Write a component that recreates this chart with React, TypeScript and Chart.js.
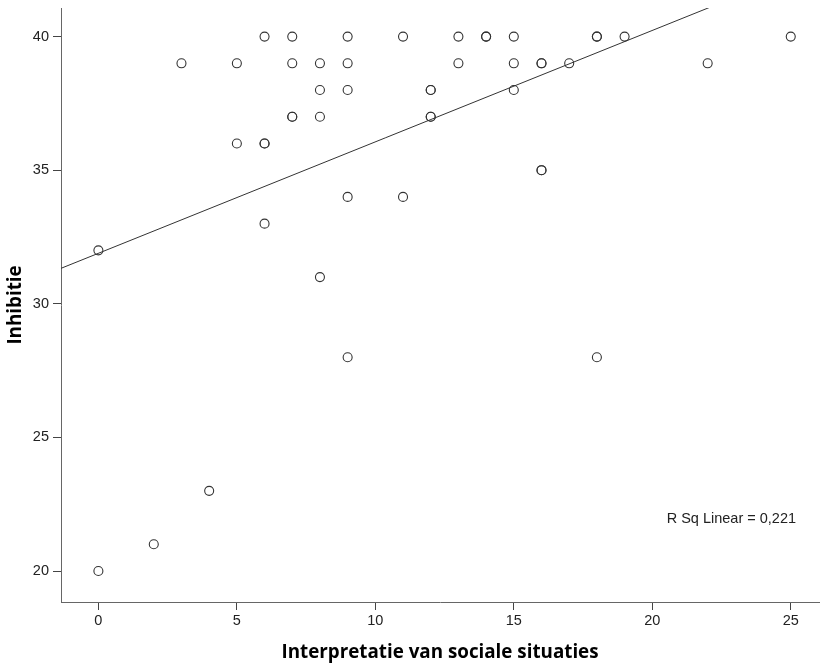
import React, { useEffect, useRef } from "react";
import { Chart, registerables } from "chart.js";

Chart.register(...registerables);

// Data (duplicates = overlapping, darker markers)
const interpretatie = [
  0, 0, 2, 3, 4, 5, 5, 6, 6, 6, 6, 7, 7, 7, 7, 8, 8, 8, 8, 9, 9, 9, 9, 9,
  11, 11, 12, 12, 12, 12, 13, 13, 14, 14, 15, 15, 15, 16, 16, 16, 16, 17,
  18, 18, 18, 19, 22, 25,
];
const inhibitie = [
  32, 20, 21, 39, 23, 39, 36, 40, 36, 36, 33, 40, 39, 37, 37, 39, 38, 37, 31,
  40, 39, 38, 34, 28, 40, 34, 38, 38, 37, 37, 40, 39, 40, 40, 40, 39, 38, 39,
  39, 35, 35, 39, 40, 40, 28, 40, 39, 40,
];

const xTicks = [0, 5, 10, 15, 20, 25];
const yTicks = [20, 25, 30, 35, 40];
const xMin = -1.35;
const xMax = 26.02;
const yMin = 18.84;
const yMax = 41.07;

// Linear fit (SPSS fit line)
const fitIntercept = 31.89;
const fitSlope = 0.417;
const rSqLabel = "R Sq Linear = 0,221";
const rSqAt = { x: 20.52, y: 21.95 };

const xTitle = "Interpretatie van sociale situaties";
const yTitle = "Inhibitie";

const tickFont = { family: "'Liberation Sans', Arial, sans-serif", size: 14.5 };
const titleFont = { family: "'Open Sans', sans-serif", size: 18.8, weight: "bold" as const };

export default function App() {
  const ref = useRef<HTMLCanvasElement | null>(null);

  useEffect(() => {
    if (!ref.current) return;
    const points = interpretatie.map((x, i) => ({ x, y: inhibitie[i] }));
    const fitLine = [xMin, xMax].map((x) => ({ x, y: fitIntercept + fitSlope * x }));

    const rSqPlugin = {
      id: "rsq",
      afterDatasetsDraw(chart: any) {
        const ctx = chart.ctx;
        const xs = chart.scales.x;
        const ys = chart.scales.y;
        ctx.save();
        ctx.font = `14.5px ${tickFont.family}`;
        ctx.fillStyle = "#222";
        ctx.textAlign = "left";
        ctx.textBaseline = "middle";
        ctx.fillText(rSqLabel, xs.getPixelForValue(rSqAt.x), ys.getPixelForValue(rSqAt.y));
        ctx.restore();
      },
    };

    const chart = new Chart(ref.current, {
      type: "scatter",
      data: {
        datasets: [
          {
            data: points,
            showLine: false,
            pointStyle: "circle",
            pointRadius: 4.5,
            pointBorderWidth: 1.1,
            borderColor: "#333",
            backgroundColor: "rgba(0,0,0,0)",
            pointBackgroundColor: "rgba(0,0,0,0)",
            pointBorderColor: "#333",
          },
          {
            data: fitLine,
            showLine: true,
            pointRadius: 0,
            borderColor: "#333",
            borderWidth: 1,
            fill: false,
          },
        ],
      },
      options: {
        animation: false,
        responsive: false,
        devicePixelRatio: 1,
        layout: { autoPadding: false, padding: { top: 8, right: 1, left: 0, bottom: 0 } },
        plugins: { legend: { display: false }, tooltip: { enabled: false } },
        scales: {
          x: {
            type: "linear",
            min: xMin,
            max: xMax,
            afterBuildTicks: (s: any) => {
              s.ticks = xTicks.map((v) => ({ value: v }));
            },
            afterFit: (s: any) => {
              s.height = 66;
              s.paddingLeft = 0;
              s.paddingRight = 0;
            },
            grid: {
              drawOnChartArea: false,
              drawTicks: true,
              tickLength: 8,
              tickColor: "#444",
              tickWidth: 1,
            },
            border: { display: true, color: "#666", width: 1 },
            ticks: { font: tickFont, color: "#222", padding: 2, maxRotation: 0 },
            title: {
              display: true,
              text: xTitle,
              font: titleFont,
              color: "#000",
              padding: { top: 0, bottom: 4 },
            },
          },
          y: {
            type: "linear",
            min: yMin,
            max: yMax,
            afterBuildTicks: (s: any) => {
              s.ticks = yTicks.map((v) => ({ value: v }));
            },
            afterFit: (s: any) => {
              s.width = 61;
              s.paddingTop = 0;
              s.paddingBottom = 0;
            },
            grid: {
              drawOnChartArea: false,
              drawTicks: true,
              tickLength: 8,
              tickColor: "#444",
              tickWidth: 1,
            },
            border: { display: true, color: "#666", width: 1 },
            ticks: { font: tickFont, color: "#222", padding: 4 },
            title: {
              display: true,
              text: yTitle,
              font: titleFont,
              color: "#000",
              padding: { top: 4.5, bottom: 0 },
            },
          },
        },
      },
      plugins: [rSqPlugin],
    });
    return () => chart.destroy();
  }, []);

  return (
    <div style={{ position: "fixed", left: 0, top: 0, width: 820, height: 668, background: "#fff" }}>
      <canvas ref={ref} width={820} height={668} />
    </div>
  );
}
